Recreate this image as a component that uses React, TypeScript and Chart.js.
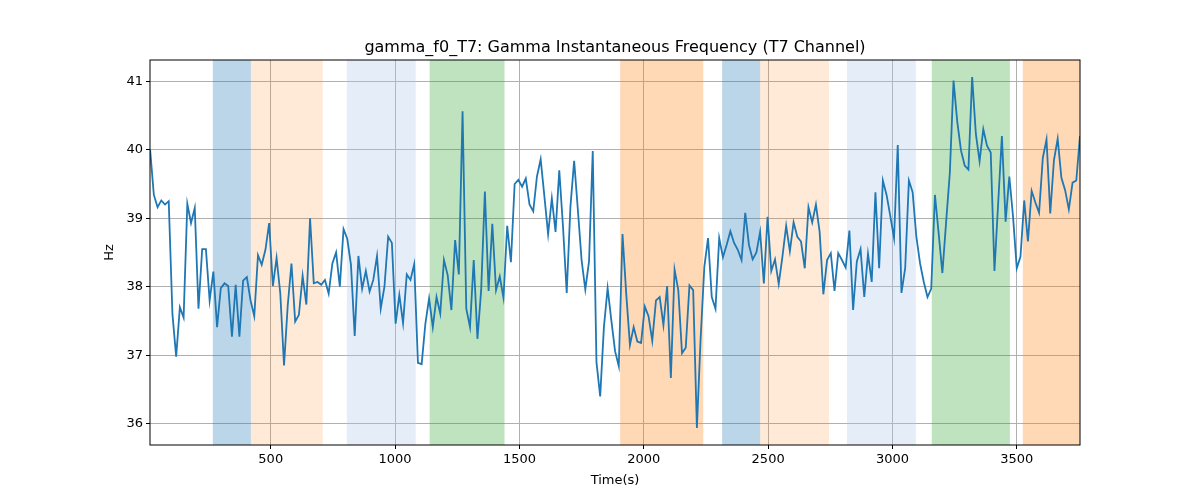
import React, { useEffect, useRef } from "react";
import { Chart, registerables } from "chart.js";
Chart.register(...registerables);

const TITLE = "gamma_f0_T7: Gamma Instantaneous Frequency (T7 Channel)";
const X_LABEL = "Time(s)";
const Y_LABEL = "Hz";
const T_START = 15;
const T_END = 3754;
const X_MIN = 14.5;
const X_MAX = 3754;
const Y_MIN = 35.69;
const Y_MAX = 41.31;
const X_TICKS = [500, 1000, 1500, 2000, 2500, 3000, 3500];
const Y_TICKS = [36, 37, 38, 39, 40, 41];

const freqA = [40.0, 39.34, 39.16, 39.26, 39.2, 39.25, 37.6, 36.98, 37.7, 37.55, 39.21, 38.93, 39.15, 37.68, 38.55, 38.55, 37.8, 38.22, 37.41, 37.98, 38.05, 38.01, 37.27, 38.03, 37.27, 38.09, 38.14, 37.8, 37.57, 38.46, 38.32, 38.54, 38.93, 38.01, 38.42, 37.9, 36.85, 37.73, 38.34, 37.49, 37.59, 38.16, 37.74, 39.0, 38.05, 38.07, 38.03, 38.1, 37.9, 38.34, 38.5, 38.0, 38.84, 38.7, 38.32, 37.28, 38.45, 37.97, 38.23, 37.93, 38.1, 38.45, 37.68, 38.0, 38.73, 38.64, 37.46, 37.88, 37.47, 38.18, 38.1, 38.33, 36.89, 36.87, 37.46, 37.83, 37.41, 37.85, 37.61, 38.39, 38.17, 37.66, 38.68, 38.18, 40.56, 37.68, 37.41];
const freqB = [38.39, 37.24, 37.95, 39.39, 37.94, 38.92, 37.95, 38.15, 37.84, 38.89, 38.36, 39.5, 39.56, 39.46, 39.58, 39.2, 39.1, 39.61, 39.86, 39.32, 38.77, 39.29, 38.8, 39.7, 38.88, 37.91, 39.17, 39.84, 39.12, 38.39, 37.96, 38.37, 39.98, 36.9, 36.4, 37.41, 37.98, 37.51, 37.06, 36.84, 38.77, 37.9, 37.15, 37.41, 37.2, 37.18, 37.71, 37.57, 37.21, 37.8, 37.85, 37.44, 38.01, 36.67, 38.25, 37.95, 37.03, 37.11, 38.02, 37.95, 35.94, 37.24, 38.29, 38.71, 37.85, 37.68, 38.71, 38.43, 38.61, 38.81, 38.64, 38.54, 38.39, 39.08, 38.61, 38.4, 38.5, 38.8, 38.05, 39.02, 38.23, 38.4, 38.04];
const freqC = [38.44, 38.89, 38.52, 38.94, 38.73, 38.66, 38.27, 39.16, 38.94, 39.2, 38.8, 37.89, 38.39, 38.49, 37.94, 38.49, 38.39, 38.28, 38.82, 37.66, 38.37, 38.55, 37.85, 38.48, 38.07, 39.38, 38.27, 39.55, 39.34, 39.03, 38.71, 40.07, 37.91, 38.27, 39.55, 39.38, 38.73, 38.34, 38.07, 37.85, 37.97, 39.34, 38.78, 38.2, 38.94, 39.66, 41.01, 40.41, 39.99, 39.77, 39.71, 41.06, 40.23, 39.83, 40.3, 40.06, 39.96, 38.23, 39.22, 40.2, 38.95, 39.61, 39.02, 38.27, 38.44, 39.26, 38.66, 39.4, 39.23, 39.08, 39.88, 40.15, 39.07, 39.85, 40.16, 39.59, 39.41, 39.13, 39.52, 39.55, 40.2];
const freq = [...freqA, ...freqB, ...freqC];

const bandStart = [267, 420, 806, 1139, 1905, 2315, 2468, 2817, 3158, 3524];
const bandEnd = [420, 709, 1083, 1440, 2239, 2468, 2745, 3094, 3472, 3760];
const bandColor = [
  "rgba(31,119,180,0.3)", "rgba(255,127,14,0.16)", "rgba(174,199,232,0.32)", "rgba(44,160,44,0.3)", "rgba(255,127,14,0.3)",
  "rgba(31,119,180,0.3)", "rgba(255,127,14,0.16)", "rgba(174,199,232,0.32)", "rgba(44,160,44,0.3)", "rgba(255,127,14,0.3)",
];

export default function App() {
  const ref = useRef<HTMLCanvasElement>(null);
  useEffect(() => {
    document.body.style.margin = "0";
    const n = freq.length;
    const pts = freq.map((v, i) => ({ x: T_START + (i * (T_END - T_START)) / (n - 1), y: v }));
    const bands = {
      id: "bands",
      beforeDatasetsDraw(chart: any) {
        const { ctx, chartArea: a, scales } = chart;
        ctx.save();
        ctx.beginPath();
        ctx.rect(a.left, a.top, a.right - a.left, a.bottom - a.top);
        ctx.clip();
        bandStart.forEach((s, i) => {
          const x0 = scales.x.getPixelForValue(s);
          const x1 = scales.x.getPixelForValue(bandEnd[i]);
          ctx.fillStyle = bandColor[i];
          ctx.fillRect(x0, a.top, x1 - x0, a.bottom - a.top);
        });
        ctx.restore();
      },
      afterDraw(chart: any) {
        const { ctx, chartArea: a } = chart;
        ctx.save();
        ctx.strokeStyle = "#000";
        ctx.lineWidth = 1;
        ctx.strokeRect(a.left, a.top, a.right - a.left, a.bottom - a.top);
        ctx.fillStyle = "#000";
        ctx.font = "16px 'DejaVu Sans'";
        ctx.textAlign = "center";
        ctx.textBaseline = "alphabetic";
        ctx.fillText(TITLE, (a.left + a.right) / 2, 52);
        ctx.font = "13px 'DejaVu Sans'";
        ctx.textBaseline = "middle";
        ctx.fillText(X_LABEL, (a.left + a.right) / 2, 481);
        ctx.translate(110, (a.top + a.bottom) / 2);
        ctx.rotate(-Math.PI / 2);
        ctx.fillText(Y_LABEL, 0, 0);
        ctx.restore();
      },
    };
    const font = { family: "'DejaVu Sans'", size: 13 };
    const chart = new Chart(ref.current!, {
      type: "line",
      data: {
        datasets: [{ data: pts, borderColor: "#1f77b4", borderWidth: 1.8, pointRadius: 0, tension: 0 }],
      },
      options: {
        animation: false,
        responsive: false,
        layout: { padding: { top: 60, right: 120, left: 0, bottom: 0 } },
        plugins: { legend: { display: false }, tooltip: { enabled: false } },
        scales: {
          x: {
            type: "linear",
            min: X_MIN,
            max: X_MAX,
            afterBuildTicks: (s: any) => { s.ticks = X_TICKS.map((v) => ({ value: v })); },
            afterFit: (s: any) => { s.height = 55; },
            grid: { color: "#b0b0b0", tickLength: 4, tickColor: "#000" },
            border: { display: false },
            ticks: { color: "#000", font, padding: 3, maxRotation: 0, callback: (v: any) => String(v) },
          },
          y: {
            min: Y_MIN,
            max: Y_MAX,
            afterBuildTicks: (s: any) => { s.ticks = Y_TICKS.map((v) => ({ value: v })); },
            afterFit: (s: any) => { s.width = 150; },
            grid: { color: "#b0b0b0", tickLength: 4, tickColor: "#000" },
            border: { display: false },
            ticks: { color: "#000", font, padding: 3, callback: (v: any) => String(v) },
          },
        },
      },
      plugins: [bands],
    });
    return () => chart.destroy();
  }, []);
  return (
    <div style={{ width: 1200, height: 500, background: "#fff" }}>
      <canvas ref={ref} width={1200} height={500} />
    </div>
  );
}
